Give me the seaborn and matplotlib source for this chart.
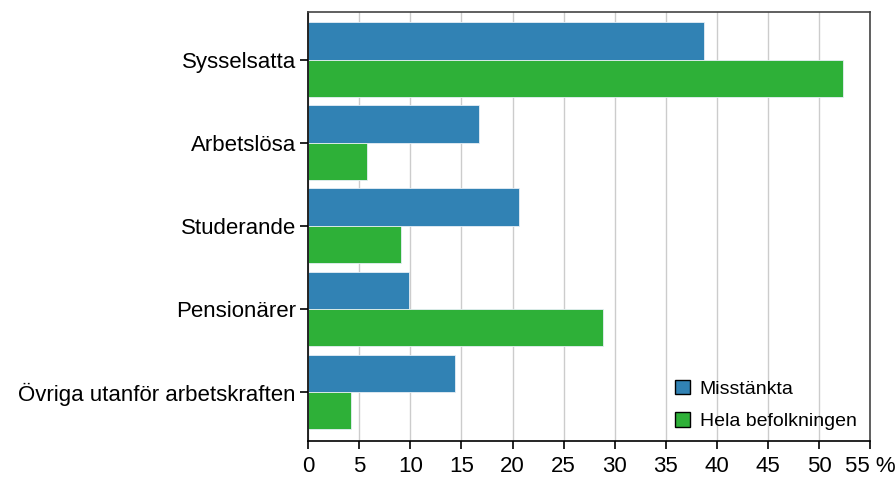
import pandas as pd
import numpy as np
import matplotlib
matplotlib.use("Agg")
import matplotlib.pyplot as plt
import seaborn as sns

# Data
kategorier = ["Sysselsatta", "Arbetslösa", "Studerande", "Pensionärer", "Övriga utanför arbetskraften"]
misstankta = [38.7, 16.7, 20.6, 9.9, 14.4]
hela_befolkningen = [52.4, 5.8, 9.1, 28.9, 4.2]
serier = ["Misstänkta", "Hela befolkningen"]
farger = ["#3182b4", "#2eb038"]

df = pd.DataFrame({
    "kategori": kategorier * 2,
    "andel": misstankta + hela_befolkningen,
    "grupp": [serier[0]] * len(kategorier) + [serier[1]] * len(kategorier),
})

sns.set_style("white")
plt.rcParams["font.family"] = ["Liberation Sans", "DejaVu Sans"]
plt.rcParams["text.color"] = "black"
plt.rcParams["xtick.color"] = "black"
plt.rcParams["ytick.color"] = "black"

fig, ax = plt.subplots(figsize=(8.96, 4.83), dpi=100)
fig.subplots_adjust(left=0.344, right=0.971, top=0.976, bottom=0.087)

sns.barplot(data=df, x="andel", y="kategori", hue="grupp", palette=farger,
            order=kategorier, hue_order=serier, width=0.9, orient="h",
            saturation=1, edgecolor="#e6eef5", linewidth=0.6, ax=ax, zorder=2)

ax.set_xlim(0, 55)
ax.set_ylim(4.59, -0.58)
ax.set_xticks(np.arange(0, 56, 5))
ax.set_xticklabels([str(v) for v in range(0, 55, 5)] + ["55 %"])
ax.grid(axis="x", color="#cccccc", linewidth=1, zorder=0)
ax.set_axisbelow(True)
ax.set_xlabel("")
ax.set_ylabel("")

for s in ["top", "right"]:
    ax.spines[s].set_color("#444444")
    ax.spines[s].set_linewidth(1.2)
for s in ["left", "bottom"]:
    ax.spines[s].set_color("black")
    ax.spines[s].set_linewidth(1.2)

ax.tick_params(axis="both", direction="out", length=6, width=1.2, color="black",
               labelsize=16, bottom=True, left=True, pad=3)
ax.tick_params(axis="x", pad=5)

leg = ax.legend(loc="lower right", frameon=False, fontsize=14, handlelength=0.75,
                handleheight=0.75, handletextpad=0.5, labelspacing=0.75,
                borderaxespad=0.15, bbox_to_anchor=(0.995, 0.0))
for h in leg.legend_handles:
    h.set_edgecolor("black")
    h.set_linewidth(1)

plt.savefig("out.png", dpi=100)
